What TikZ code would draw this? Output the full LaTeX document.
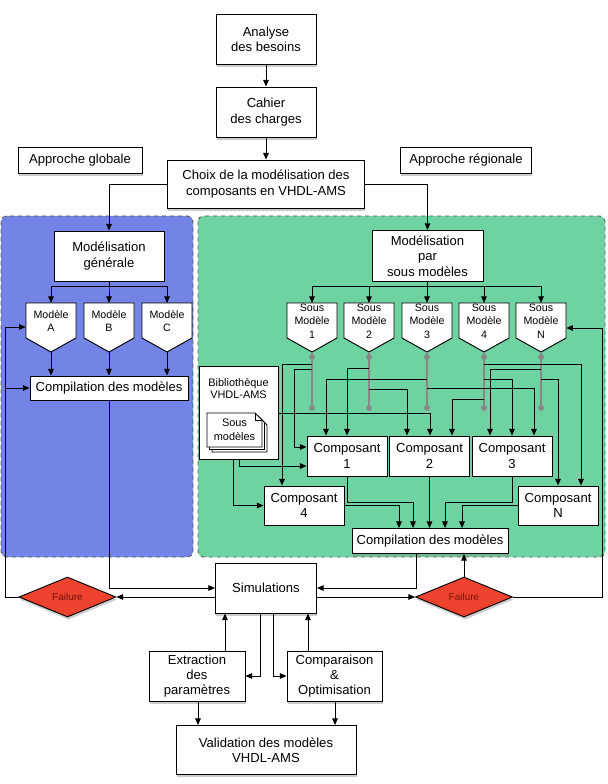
\documentclass[tikz,border=0pt]{standalone}
\usepackage{fontspec}
\setmainfont{Liberation Sans}
\usetikzlibrary{arrows.meta,shapes.geometric,shapes.misc,shadows}
\definecolor{globalblue}{RGB}{116,132,230}
\definecolor{regiongreen}{RGB}{110,211,161}
\definecolor{failred}{RGB}{237,66,45}
\definecolor{failtext}{RGB}{120,18,12}
\definecolor{busgray}{RGB}{135,135,135}
\begin{document}
\begin{tikzpicture}
    [x=0.75pt,y=-0.75pt,
    box/.style={draw,fill=white,align=center,inner sep=0pt,line width=0.7pt,font=\fontsize{9.8}{11.5}\selectfont},
    boxshadow/.style={drop shadow={shadow xshift=0.7pt,shadow yshift=-2pt,opacity=0.4}},
    pent/.style={align=center,inner sep=0pt,anchor=north,minimum width=37.5pt,minimum height=27pt,font=\fontsize{8}{10}\selectfont},
    failure/.style={diamond,aspect=2.4,draw,fill=failred,inner sep=0pt,minimum width=72.75pt,minimum height=30pt,line width=0.7pt,text=failtext,font=\fontsize{7.5}{9}\selectfont},
    arr/.style={line width=0.7pt,-{Triangle[length=5pt,width=4.2pt]}},
    bus/.style={draw=busgray,line width=1pt},
    region/.style={draw=black!65,dashed,rounded corners=4pt,line width=0.7pt}]
    \useasboundingbox (0,0) rectangle (607,784);
    %regions
    \draw[region,fill=globalblue] (1,216) rectangle (193,557);
    \draw[region,fill=regiongreen] (198,216) rectangle (605,557);
    %top of the flow
    \node[box,boxshadow,minimum width=75pt,minimum height=37.5pt] (analyse) at (266,39) {Analyse\\des besoins};
    \node[box,boxshadow,minimum width=75pt,minimum height=37.5pt] (cahier) at (266,112) {Cahier\\des charges};
    \node[box,boxshadow,minimum width=93pt,minimum height=19.5pt] (globale) at (80,160) {Approche globale};
    \node[box,boxshadow,minimum width=98.25pt,minimum height=19.5pt] (regionale) at (466,160) {Approche régionale};
    \node[box,boxshadow,minimum width=147.75pt,minimum height=36pt] (choix) at (266,184) {Choix de la modélisation des\\composants en VHDL-AMS};
    \draw[arr] (analyse) -- (cahier);
    \draw[arr] (cahier) -- (choix);
    %global approach
    \node[box,minimum width=82.5pt,minimum height=37.5pt] (generale) at (109,256) {Modélisation\\générale};
    \node[box,minimum width=118.5pt,minimum height=18pt] (compilA) at (109,388) {Compilation des modèles};
    \draw[arr] (choix.west) -| (generale.north);
    \foreach \x/\m in {51/A,109/B,167/C}{
        \draw[fill=white,line width=0.7pt] (\x-25,303) -- (\x+25,303) -- (\x+25,338) -- (\x,352) -- (\x-25,338) -- cycle;
        \node[pent] (modele\m) at (\x,303) {Modèle\\\m};
        \draw[arr] (generale.south) -- ++(0,5) -| (modele\m.north);
        \draw[arr] (\x,352) -- (\x,0 |- compilA.north);
    }
    %regional approach
    \node[box,minimum width=83.25pt,minimum height=38.25pt] (parsous) at (427.5,256) {Modélisation\\par\\sous modèles};
    \draw[arr] (choix.east) -| (parsous.north);
    \foreach \x/\n/\t in {312/1/1,369/2/2,427/3/3,484/4/4,541/5/N}{
        \draw[fill=white,line width=0.7pt] (\x-25,303) -- (\x+25,303) -- (\x+25,338) -- (\x,352) -- (\x-25,338) -- cycle;
        \node[pent] (sous\n) at (\x,303) {Sous\\Modèle\\\t};
        \draw[arr] (parsous.south) -- ++(0,4) -| (sous\n.north);
        \draw[bus] (\x,352) -- (\x,408);
        \fill[busgray] (\x,357) circle (2.2pt) (\x,408) circle (2.2pt);
    }
    %library
    \node[box,chamfered rectangle,chamfered rectangle xsep=5.25pt,chamfered rectangle ysep=5.25pt,minimum width=59.25pt,minimum height=69.75pt] (biblio) at (238.5,412.5) {};
    \node[align=center,font=\fontsize{8.2}{9}\selectfont] (bibtitle) at (238.5,389) {Bibliothèque\\VHDL-AMS};
    \foreach \s in {5,2.5}{
        \draw[fill=white,line width=0.6pt] (207+\s,413+\s) -- (255+\s,413+\s) -- (262+\s,420+\s) -- (262+\s,447+\s) -- (207+\s,447+\s) -- cycle;
    }
    \draw[fill=white,line width=0.6pt] (207,413) -- (255,413) -- (262,420) -- (262,447) -- (207,447) -- cycle;
    \draw[line width=0.6pt] (255,413) -- (255,420) -- (262,420);
    \node[align=center,font=\fontsize{8.2}{10.5}\selectfont] (docs) at (234.5,430) {Sous\\modèles};
    %components
    \node[box,minimum width=60pt,minimum height=30pt] (compo1) at (347,456) {Composant\\1};
    \node[box,minimum width=60pt,minimum height=30pt] (compo2) at (429.5,456) {Composant\\2};
    \node[box,minimum width=60pt,minimum height=30pt] (compo3) at (512,456) {Composant\\3};
    \node[box,minimum width=60pt,minimum height=29.25pt] (compo4) at (304,505.5) {Composant\\4};
    \node[box,minimum width=60pt,minimum height=29.25pt] (compoN) at (558,505.5) {Composant\\N};
    \node[box,boxshadow,minimum width=117pt,minimum height=18.75pt] (compilB) at (430,541) {Compilation des modèles};
    %wiring of the sub-models
    \draw[arr] (sous1.south |- 0,364) -| (282,0 |- compo4.north);
    \draw[arr] (sous1.south |- 0,369) -| (294,447) -- (compo1.west |- 0,447);
    \draw[arr] (sous2.south |- 0,368) -| (347,0 |- compo1.north);
    \draw[arr] (sous2.south |- 0,389) -| (407,0 |- compo2.north);
    \draw[arr] (sous3.south |- 0,379) -| (326,0 |- compo1.north);
    \draw[arr] (sous3.south |- 0,388) -| (534,0 |- compo3.north);
    \draw[arr] (sous4.south |- 0,364) -| (581,0 |- compoN.north);
    \draw[arr] (sous4.south |- 0,379) -| (512,0 |- compo3.north);
    \draw[arr] (sous4.south |- 0,399) -| (452,0 |- compo2.north);
    \draw[arr] (sous5.south |- 0,369) -| (490,0 |- compo3.north);
    \draw[arr] (sous5.south |- 0,379) -| (558,0 |- compoN.north);
    \draw[arr] (biblio.east |- 0,413) -| (430,0 |- compo2.north);
    \draw[arr] (239,0 |- biblio.south) |- (compo1.west |- 0,466);
    \draw[arr] (233,0 |- biblio.south) |- (compo4.west);
    %components to compilation
    \draw[arr] (compo1.south) |- (413,502) -- (413,0 |- compilB.north);
    \draw[arr] (compo4.east) -| (399,0 |- compilB.north);
    \draw[arr] (compo2.south) -- (compo2.south |- compilB.north);
    \draw[arr] (compo3.south) |- (445,502) -- (445,0 |- compilB.north);
    \draw[arr] (compoN.west) -| (462,0 |- compilB.north);
    %simulation loop
    \node[box,boxshadow,minimum width=75.75pt,minimum height=37.5pt] (simu) at (266,588) {Simulations};
    \node[failure,boxshadow] (failL) at (67.5,597) {Failure};
    \node[failure,boxshadow] (failR) at (464,597) {Failure};
    \draw[arr] (compilA.south) |- (simu.west);
    \draw[arr] (416,0 |- compilB.south) |- (simu.east);
    \draw[arr] (simu.west |- failL.east) -- (failL.east);
    \draw[arr] (simu.east |- failR.west) -- (failR.west);
    \draw[arr] (failL.west) -- (5,0 |- failL.west) |- (modeleA.west |- 0,327);
    \draw[arr] (failL.west) -- (5,0 |- failL.west) |- (compilA.west);
    \draw[arr] (failR.north) -- (failR.north |- compilB.south);
    \draw[arr] (failR.east) -- (602,0 |- failR.east) |- (sous5.east |- 0,328);
    %results
    \node[box,boxshadow,minimum width=72pt,minimum height=37.5pt] (extract) at (197,676) {Extraction\\des\\paramètres};
    \node[box,boxshadow,minimum width=71.25pt,minimum height=37.5pt] (compar) at (334.5,676) {Comparaison\\\&\\Optimisation};
    \node[box,boxshadow,minimum width=135pt,minimum height=36.75pt] (valid) at (266,750) {Validation des modèles\\VHDL-AMS};
    \draw[arr] (225,0 |- extract.north) -- (225,0 |- simu.south);
    \draw[arr] (308,0 |- compar.north) -- (308,0 |- simu.south);
    \draw[arr] (260,0 |- simu.south) |- (extract.east);
    \draw[arr] (273,0 |- simu.south) |- (compar.west);
    \draw[arr] (198,0 |- extract.south) -- (198,0 |- valid.north);
    \draw[arr] (335,0 |- compar.south) -- (335,0 |- valid.north);
\end{tikzpicture}
\end{document}
